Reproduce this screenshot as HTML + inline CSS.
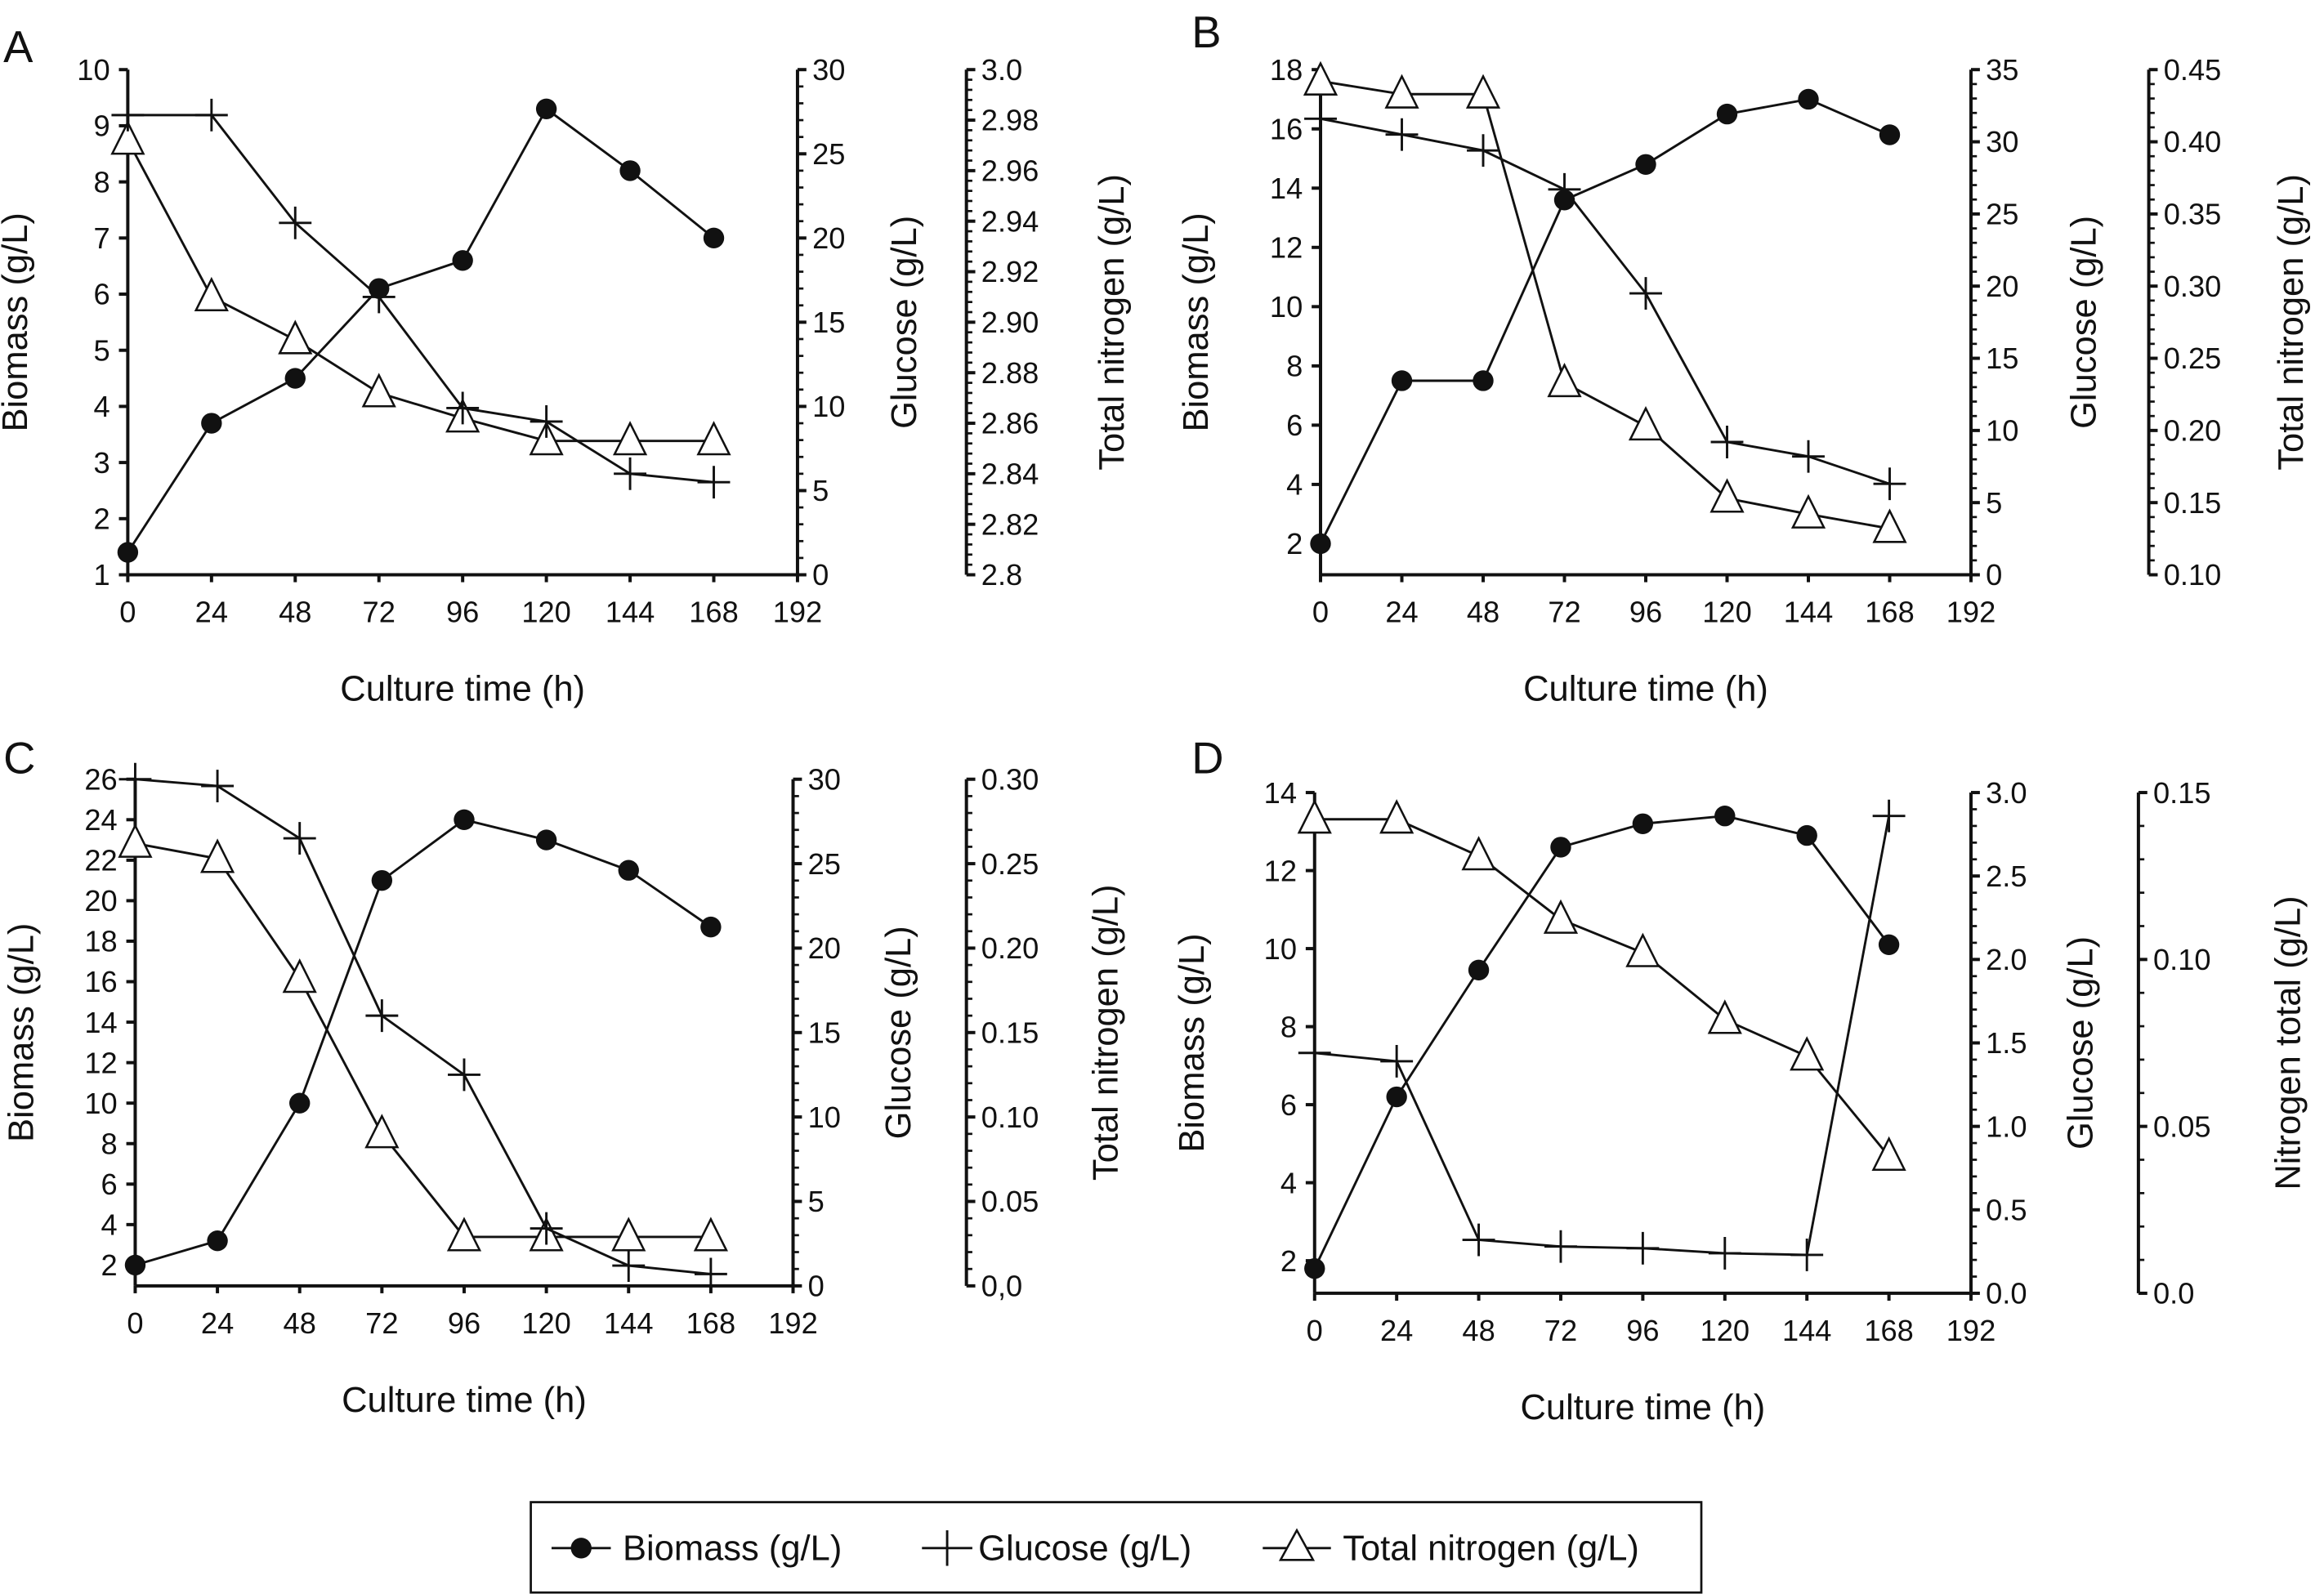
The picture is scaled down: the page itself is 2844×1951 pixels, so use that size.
<!DOCTYPE html>
<html><head><meta charset="utf-8"><style>
html,body{margin:0;padding:0;background:#fff}
svg{display:block}
text{font-family:"Liberation Sans",Arial,sans-serif;fill:#111}
</style></head><body>
<svg id="fig" width="2844" height="1951" viewBox="0 0 1568 1076" xmlns="http://www.w3.org/2000/svg">
<g id="root"></g>
<g>
<rect x="358" y="1014" width="790" height="61" fill="#fff" stroke="#111" stroke-width="1.5"/>
<line x1="372" y1="1045" x2="412" y2="1045" stroke="#111" stroke-width="1.6"/>
<circle cx="392" cy="1045" r="7" fill="#111"/>
<text x="420" y="1053" font-size="24">Biomass (g/L)</text>
<line x1="622" y1="1045" x2="656" y2="1045" stroke="#111" stroke-width="1.6"/>
<line x1="639" y1="1033" x2="639" y2="1057" stroke="#111" stroke-width="1.6"/>
<text x="660" y="1053" font-size="24">Glucose (g/L)</text>
<line x1="852" y1="1045" x2="898" y2="1045" stroke="#111" stroke-width="1.6"/>
<polygon points="875,1033 864,1053 886,1053" fill="#fff" stroke="#111" stroke-width="1.4"/>
<text x="906" y="1053" font-size="24">Total nitrogen (g/L)</text>
</g>
</svg>
<script>
const times = [0,24,48,72,96,120,144,168];
const biomassA = [1.4,3.7,4.5,6.1,6.6,9.3,8.2,7.0];
const glucoseA = [27.3,27.3,20.9,16.5,9.9,9.1,6.0,5.5];
const nitrogenA = [2.972,2.910,2.893,2.872,2.862,2.853,2.853,2.853];
const biomassB = [2.0,7.5,7.5,13.6,14.8,16.5,17.0,15.8];
const glucoseB = [31.6,30.5,29.4,26.7,19.5,9.2,8.2,6.3];
const nitrogenB = [0.442,0.433,0.433,0.233,0.203,0.153,0.142,0.132];
const biomassC = [2.0,3.2,10.0,21.0,24.0,23.0,21.5,18.7];
const glucoseC = [30.0,29.6,26.5,16.0,12.5,3.4,1.2,0.7];
const nitrogenC = [0.262,0.253,0.182,0.090,0.029,0.029,0.029,0.029];
const biomassD = [1.8,6.2,9.45,12.6,13.2,13.4,12.9,10.1];
const glucoseD = [1.44,1.39,0.32,0.28,0.27,0.24,0.23,2.86];
const nitrogenD = [0.142,0.142,0.131,0.112,0.102,0.082,0.071,0.041];
const xTicks = [0,24,48,72,96,120,144,168,192];

const NS="http://www.w3.org/2000/svg";
const root=document.getElementById('root');
function mk(tag,attrs,parent,txt){const e=document.createElementNS(NS,tag);for(const k in attrs)e.setAttribute(k,attrs[k]);if(txt!==undefined)e.textContent=txt;parent.appendChild(e);return e;}
function lin(v0,v1,p0,p1){return v=>p0+(v-v0)/(v1-v0)*(p1-p0);}

function panel(c){
  const g=mk('g',{},root);
  
  
  const X=lin(0,192,c.x0,c.x1);
  const YB=lin(c.bmin,c.bmax,c.bPmin,c.bPmax);
  const YG=lin(c.gmin,c.gmax,c.yBot,c.yTop);
  const YN=lin(c.nmin,c.nmax,c.yBot,c.yTop);
  const st={stroke:'#111','stroke-width':2.2,fill:'none'};
  const t=mk('text',{x:c.lx,y:c.ly,'font-size':30},g,c.id);
  
  const la=mk('g',{},g);
  mk('line',Object.assign({x1:c.x0,y1:c.yTop,x2:c.x0,y2:c.yBot},st),la);
  c.bTicks.forEach(v=>{const y=YB(v);mk('line',Object.assign({x1:c.x0-6,y1:y,x2:c.x0,y2:y},st),la);
    mk('text',{x:c.x0-12,y:y+7,'font-size':20,'text-anchor':'end'},la,String(v));});
  const ba=mk('g',{},g);
  mk('line',Object.assign({x1:c.x0,y1:c.yBot,x2:c.x1,y2:c.yBot},st),ba);
  xTicks.forEach(v=>{const x=X(v);mk('line',Object.assign({x1:x,y1:c.yBot,x2:x,y2:c.yBot+5},st),ba);
    mk('text',{x:x,y:c.yBot+32,'font-size':20,'text-anchor':'middle'},ba,String(v));});
  const xt=mk('text',{x:(c.x0+c.x1)/2,y:c.yBot+85,'font-size':24,'text-anchor':'middle'},ba,'Culture time (h)');
  
  function rAxis(x,ticks,labels,Y,minorN,name){
    const a=mk('g',{},g);
    mk('line',Object.assign({x1:x,y1:c.yTop,x2:x,y2:c.yBot},st),a);
    ticks.forEach((v,i)=>{const y=Y(v);mk('line',Object.assign({x1:x,y1:y,x2:x+6,y2:y},st),a);
      mk('text',{x:x+10,y:y+7,'font-size':20},a,labels[i]);
      if(i<ticks.length-1){const y2=Y(ticks[i+1]);for(let k=1;k<minorN;k++){const yy=y+(y2-y)*k/minorN;mk('line',{x1:x,y1:yy,x2:x+4,y2:yy,stroke:'#111','stroke-width':1.5},a);}}});
  }
  rAxis(c.x1,c.gTicks,c.gLabels,YG,5,'glucose-axis');
  rAxis(c.xN,c.nTicks,c.nLabels,YN,5,'nitrogen-axis');
  function ytitle(x,y,s,name){const e=mk('text',{x:x,y:y,'font-size':24,'text-anchor':'middle',transform:'rotate(-90 '+x+' '+y+')'},g,s);}
  const mid=(c.yTop+c.yBot)/2;
  ytitle(c.bTx,mid,'Biomass (g/L)','biomass-axis-title');
  ytitle(c.gTx,mid,'Glucose (g/L)','glucose-axis-title');
  ytitle(c.nTx,mid,c.nTitle,'nitrogen-axis-title');
  function series(vals,Y,kind){
    const s=mk('g',{},g);
    mk('polyline',{points:vals.map((v,i)=>X(times[i])+','+Y(v)).join(' '),fill:'none',stroke:'#111','stroke-width':1.6},s);
    vals.forEach((v,i)=>{const x=X(times[i]),y=Y(v);let m;
      if(kind==='biomass')m=mk('circle',{cx:x,cy:y,r:7,fill:'#111'},s);
      else if(kind==='glucose'){m=mk('path',{d:`M${x-11} ${y}H${x+11}M${x} ${y-11}V${y+11}`,stroke:'#111','stroke-width':1.6},s);}
      else m=mk('polygon',{points:`${x},${y-12} ${x-10.5},${y+9} ${x+10.5},${y+9}`,fill:'#fff',stroke:'#111','stroke-width':1.4},s);
      });
  }
  series(c.n,YN,'nitrogen');
  series(c.g,YG,'glucose');
  series(c.b,YB,'biomass');
}
const rng=(a,b,s)=>{const r=[];for(let v=a;v<=b+1e-9;v+=s)r.push(Math.round(v*1000)/1000);return r;};
panel({id:'A',lx:2,ly:42,x0:86,x1:538,xN:652,yTop:47,yBot:388,bmin:1,bmax:10,bPmin:388,bPmax:47,bTicks:rng(1,10,1),
 gmin:0,gmax:30,gTicks:rng(0,30,5),gLabels:['0','5','10','15','20','25','30'],
 nmin:2.8,nmax:3.0,nTicks:rng(2.8,3.0,0.02),nLabels:['2.8','2.82','2.84','2.86','2.88','2.90','2.92','2.94','2.96','2.98','3.0'],
 bTx:18,gTx:618,nTx:758,nTitle:'Total nitrogen (g/L)',b:biomassA,g:glucoseA,n:nitrogenA});
panel({id:'B',lx:804,ly:32,x0:891,x1:1330,xN:1450,yTop:47,yBot:388,bmin:0,bmax:18,bPmin:407,bPmax:47,bTicks:rng(2,18,2),
 gmin:0,gmax:35,gTicks:rng(0,35,5),gLabels:['0','5','10','15','20','25','30','35'],
 nmin:0.1,nmax:0.45,nTicks:rng(0.1,0.45,0.05),nLabels:['0.10','0.15','0.20','0.25','0.30','0.35','0.40','0.45'],
 bTx:815,gTx:1414,nTx:1554,nTitle:'Total nitrogen (g/L)',b:biomassB,g:glucoseB,n:nitrogenB});
panel({id:'C',lx:2,ly:522,x0:91,x1:535,xN:652,yTop:526,yBot:868,bmin:0,bmax:26,bPmin:881.3,bPmax:526,bTicks:rng(2,26,2),
 gmin:0,gmax:30,gTicks:rng(0,30,5),gLabels:['0','5','10','15','20','25','30'],
 nmin:0,nmax:0.3,nTicks:rng(0,0.3,0.05),nLabels:['0,0','0.05','0.10','0.15','0.20','0.25','0.30'],
 bTx:22,gTx:614,nTx:754,nTitle:'Total nitrogen (g/L)',b:biomassC,g:glucoseC,n:nitrogenC});
panel({id:'D',lx:804,ly:522,x0:887,x1:1330,xN:1443,yTop:535,yBot:873,bmin:0,bmax:14,bPmin:903.7,bPmax:535,bTicks:rng(2,14,2),
 gmin:0,gmax:3,gTicks:rng(0,3,0.5),gLabels:['0.0','0.5','1.0','1.5','2.0','2.5','3.0'],
 nmin:0,nmax:0.15,nTicks:rng(0,0.15,0.05),nLabels:['0.0','0.05','0.10','0.15'],
 bTx:812,gTx:1412,nTx:1552,nTitle:'Nitrogen total (g/L)',b:biomassD,g:glucoseD,n:nitrogenD});
</script>
</body></html>
